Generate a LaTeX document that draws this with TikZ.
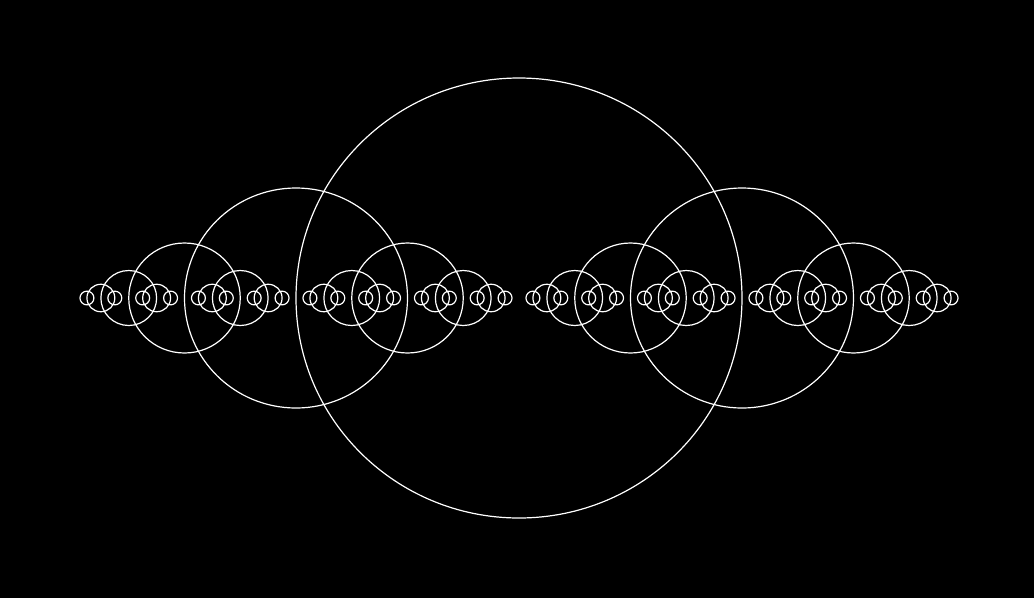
\documentclass[tikz,border=0pt]{standalone}
\newcommand\fraccircle[4]{% center x, x radius, y radius, depth
  \draw[ring] (#1,298) ellipse [x radius=#2pt, y radius=#3pt];
  \ifnum#4>0
    \begingroup
    \pgfmathsetmacro\fcL{#1-#2}%
    \pgfmathsetmacro\fcR{#1+#2}%
    \pgfmathsetmacro\fcrx{#2/2}%
    \pgfmathsetmacro\fcry{#3/2}%
    \pgfmathtruncatemacro\fcd{#4-1}%
    \edef\fcnext{\noexpand\fraccircle{\fcL}{\fcrx}{\fcry}{\fcd}\noexpand\fraccircle{\fcR}{\fcrx}{\fcry}{\fcd}}%
    \fcnext
    \endgroup
  \fi}
\begin{document}
\begin{tikzpicture}[x=1pt,y=-1pt,ring/.style={draw=white,line width=1.2pt}]
\fill[black] (0,0) rectangle (1034,598);
\useasboundingbox (0,0) rectangle (1034,598);
\fraccircle{519}{223}{220}{5}
\end{tikzpicture}
\end{document}
